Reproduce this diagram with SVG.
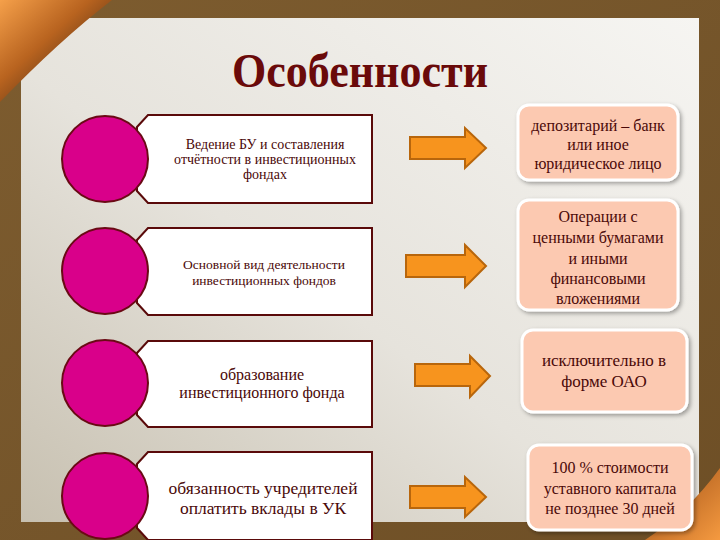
<svg xmlns="http://www.w3.org/2000/svg" width="720" height="540" viewBox="0 0 720 540">
<defs>
<linearGradient id="paper" x1="0" y1="1" x2="1" y2="0">
<stop offset="0" stop-color="#c7c0b0"/>
<stop offset="0.45" stop-color="#e6e3dc"/>
<stop offset="1" stop-color="#f6f5f2"/>
</linearGradient>
<linearGradient id="frame" x1="0" y1="0" x2="1" y2="1">
<stop offset="0" stop-color="#7d5c2f"/>
<stop offset="1" stop-color="#6e4f26"/>
</linearGradient>
<linearGradient id="curl1" x1="0" y1="0" x2="1" y2="1">
<stop offset="0" stop-color="#f5a04a"/>
<stop offset="0.4" stop-color="#b8631f"/>
<stop offset="0.85" stop-color="#3a2210"/>
</linearGradient>
<linearGradient id="curl2" x1="1" y1="1" x2="0" y2="0">
<stop offset="0" stop-color="#f59a40"/>
<stop offset="0.5" stop-color="#c8732a"/>
<stop offset="1" stop-color="#6a4020"/>
</linearGradient>
<filter id="sh" x="-10%" y="-10%" width="130%" height="130%">
<feDropShadow dx="2" dy="2" stdDeviation="2" flood-color="#000" flood-opacity="0.35"/>
</filter>
</defs>
<style>
.frm{fill:url(#frame)}
.lbox{fill:#ffffff;stroke:#5a0a0a;stroke-width:2}
.circ{fill:#d9008a;stroke:#6a0a14;stroke-width:2}
.arr{fill:#f7941e;stroke:#b8660c;stroke-width:2}
.rbox{fill:#fcc9b1;stroke:#ffffff;stroke-width:3;filter:url(#sh)}
.t{font-family:"Liberation Serif","Times New Roman",serif;fill:#4a0808;text-anchor:middle}
.title{font-family:"Liberation Serif","Times New Roman",serif;font-weight:bold;fill:#6a0a0a;text-anchor:middle}
</style>
<rect class="frm" x="0" y="0" width="720" height="540"/>
<rect x="21" y="18" width="678" height="504" fill="url(#paper)"/>
<path d="M0 0 L112 0 Q60 40 0 102 Z" fill="url(#curl1)"/>
<path d="M720 468 L720 540 L645 540 Q690 510 720 468 Z" fill="url(#curl2)"/>
<text class="title" x="360" y="87" font-size="48" textLength="256" lengthAdjust="spacingAndGlyphs">Особенности</text>

<g id="node1">
<polygon class="lbox" points="148,115 372,115 372,203 148,203 137,191 137,127"/>
<circle class="circ" cx="105" cy="159" r="43"/>
<text class="t" font-size="14"><tspan x="265" y="149">Ведение БУ и составления</tspan><tspan x="265" y="164">отчётности в инвестиционных</tspan><tspan x="265" y="179">фондах</tspan></text>
</g>
<g id="node2">
<polygon class="lbox" points="148,228 372,228 372,315 148,315 137,303 137,240"/>
<circle class="circ" cx="105" cy="271" r="43"/>
<text class="t" font-size="13.5"><tspan x="264" y="269">Основной вид деятельности</tspan><tspan x="264" y="285">инвестиционных фондов</tspan></text>
</g>
<g id="node3">
<polygon class="lbox" points="148,341 372,341 372,427 148,427 137,415 137,353"/>
<circle class="circ" cx="105" cy="383" r="43"/>
<text class="t" font-size="16"><tspan x="262" y="380">образование</tspan><tspan x="262" y="398">инвестиционного фонда</tspan></text>
</g>
<g id="node4">
<polygon class="lbox" points="148,452 372,452 372,540 148,540 137,528 137,464"/>
<circle class="circ" cx="105" cy="496" r="43"/>
<text class="t" font-size="17.5"><tspan x="263" y="494">обязанность учредителей</tspan><tspan x="263" y="514">оплатить вклады в УК</tspan></text>
</g>

<g id="connectors">
<polygon class="arr" points="410,137 465,137 465,128 486,148 465,168 465,159 410,159"/>
<polygon class="arr" points="406,255 465,255 465,245 486,266 465,287 465,277 406,277"/>
<polygon class="arr" points="415,364 470,364 470,356 490,376 470,397 470,386 415,386"/>
<polygon class="arr" points="410,486 465,486 465,477 486,497 465,517 465,508 410,508"/>
</g>

<g id="r1">
<rect class="rbox" x="518" y="105" width="160" height="75" rx="11"/>
<text class="t" font-size="16"><tspan x="598" y="131">депозитарий – банк</tspan><tspan x="598" y="150">или иное</tspan><tspan x="598" y="169">юридическое лицо</tspan></text>
</g>
<g id="r2">
<rect class="rbox" x="518" y="200" width="160" height="110" rx="11"/>
<text class="t" font-size="16"><tspan x="598" y="222">Операции с</tspan><tspan x="598" y="243">ценными бумагами</tspan><tspan x="598" y="264">и иными</tspan><tspan x="598" y="284">финансовыми</tspan><tspan x="598" y="304">вложениями</tspan></text>
</g>
<g id="r3">
<rect class="rbox" x="522" y="330" width="165" height="82" rx="11"/>
<text class="t" font-size="17"><tspan x="604" y="366">исключительно в</tspan><tspan x="604" y="387">форме ОАО</tspan></text>
</g>
<g id="r4">
<rect class="rbox" x="528" y="445" width="164" height="85" rx="11"/>
<text class="t" font-size="16"><tspan x="610" y="473">100 % стоимости</tspan><tspan x="610" y="494">уставного капитала</tspan><tspan x="610" y="514">не позднее 30 дней</tspan></text>
</g>
</svg>
